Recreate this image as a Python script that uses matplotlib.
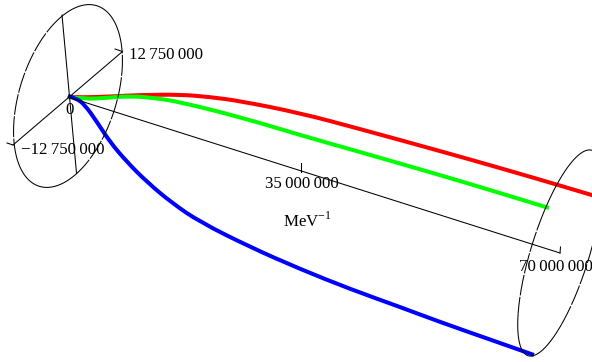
import matplotlib
matplotlib.use('Agg')
import matplotlib.pyplot as plt
from matplotlib.path import Path
from matplotlib.patches import PathPatch
import numpy as np

plt.rcParams['font.family'] = ['Liberation Serif', 'DejaVu Serif']
plt.rcParams['mathtext.fontset'] = 'custom'
plt.rcParams['mathtext.rm'] = 'Liberation Serif'

# curves in pixels
red_x = [68, 85, 110, 140, 180, 210, 240, 300, 360, 440, 500, 555, 595]
red_y = [97, 97.5, 96.5, 95, 94.5, 97, 101, 113, 129, 151, 168, 184, 196]
green_x = [68, 85, 105, 130, 155, 180, 240, 300, 360, 440, 500, 549]
green_y = [97, 99, 98, 96, 98, 102, 117, 135, 152, 175, 193, 208]
blue_x = [68, 76, 85, 97, 110, 127, 147, 172, 200, 250, 300, 350, 400, 440, 500, 534]
blue_y = [96, 98, 105, 122, 142, 162, 182, 203, 222, 247, 269, 289, 307, 322, 343, 355]

# axis lines
long_axis_x = [68, 560]
long_axis_y = [97, 253]
diam1_x = [13, 122.5]
diam1_y = [145, 51.5]
diam2_x = [62, 76.5]
diam2_y = [15, 173]

tick_segments = [
    ([115, 122.5], [49, 51.5]),
    ([7, 13], [143, 145]),
    ([301, 301], [163, 171.5]),
    ([560.5, 560], [247, 253]),
]

labels = ['12\u2009750\u2009000', '\u221212\u2009750\u2009000', '0',
          '35\u2009000\u2009000', '70\u2009000\u2009000', r'MeV$^{-1}$']
label_x = [129, 21, 70, 302, 556, 307]
label_y = [55, 150, 110, 184, 267, 221]
label_ha = ['left', 'left', 'center', 'center', 'center', 'center']

fig = plt.figure(figsize=(5.92, 3.62), dpi=100)
ax = fig.add_axes([0, 0, 1, 1])
ax.set_xlim(0, 592)
ax.set_ylim(362, 0)
ax.axis('off')


def ellipse_arc(cx, cy, a, b, t0, t1, dashed=False):
    t = np.radians(np.linspace(t0, t1, 200))
    x = cx + a[0] * np.cos(t) + b[0] * np.sin(t)
    y = cy + a[1] * np.cos(t) + b[1] * np.sin(t)
    line, = ax.plot(x, y, color='black', lw=0.75, solid_capstyle='butt')
    if dashed:
        line.set_dashes((20, 1.5))


def smooth_curve(xs, ys, color):
    # the read points act as control points of quadratic pieces
    pts = list(zip(xs, ys))
    verts = [pts[0]]
    codes = [Path.MOVETO]
    for i in range(1, len(pts) - 1):
        nx = (pts[i][0] + pts[i + 1][0]) / 2
        ny = (pts[i][1] + pts[i + 1][1]) / 2
        if i == len(pts) - 2:
            nx, ny = pts[i + 1]
        verts += [pts[i], (nx, ny)]
        codes += [Path.CURVE3, Path.CURVE3]
    ax.add_patch(PathPatch(Path(verts, codes), fill=False, edgecolor=color, lw=2.9,
                           capstyle='butt', joinstyle='round'))


# left ring
ellipse_arc(68, 96, (54, -46), (-7, -79), 0, 90)
ellipse_arc(68, 96, (54, -46), (-7, -79), 90, 180, dashed=True)
ellipse_arc(68, 96, (54, -46), (-7, -79), 180, 270)
ellipse_arc(68, 96, (54, -46), (-7, -79), 270, 360, dashed=True)

# right ring
ellipse_arc(560, 253, (42, -80), (-5, -65), 30, 105)
ellipse_arc(560, 253, (42, -80), (-5, -65), 105, 165, dashed=True)
ellipse_arc(560, 253, (42, -80), (-5, -65), 165, 265)
ellipse_arc(560, 253, (42, -80), (-5, -65), 265, 390, dashed=True)

ax.plot(long_axis_x, long_axis_y, color='black', lw=0.75)
ax.plot(diam1_x, diam1_y, color='black', lw=0.75)
ax.plot(diam2_x, diam2_y, color='black', lw=0.75)
for sx, sy in tick_segments:
    ax.plot(sx, sy, color='black', lw=0.75)

smooth_curve(red_x, red_y, '#ff0000')
smooth_curve(green_x, green_y, '#00ff00')
smooth_curve(blue_x, blue_y, '#0000ff')

for s, x, y, ha in zip(labels, label_x, label_y, label_ha):
    ax.text(x, y, s, fontsize=12.2, ha=ha, va='center', color='black')

fig.savefig('out.png', dpi=100)
